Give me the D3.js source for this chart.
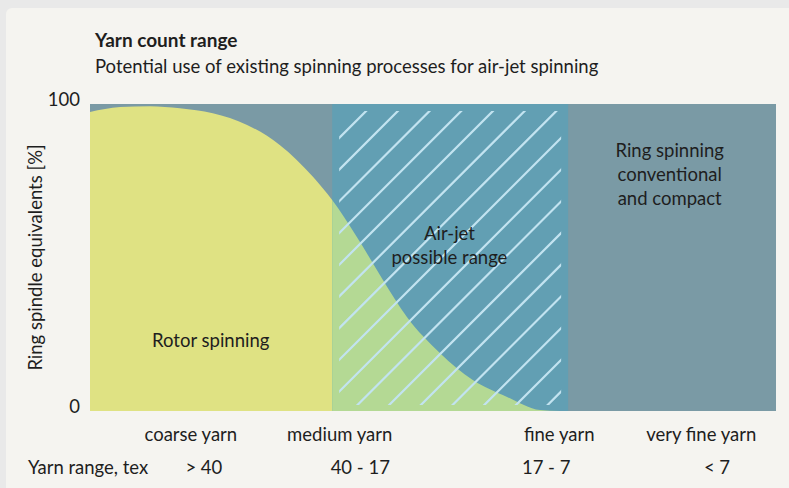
<!DOCTYPE html>
<html>
<head>
<meta charset="utf-8">
<script src="https://cdn.jsdelivr.net/npm/d3@7"></script>
<style>
  html, body { margin: 0; padding: 0; background: #e9e9e9; }
  svg { display: block; }
  text { font-family: Lato, "Noto Sans", sans-serif; fill: #1e1e1e; }
</style>
</head>
<body>
<svg id="chart" width="789" height="488"></svg>
<script>
// Yarn fineness position along the axis (0 = coarsest, 100 = finest)
const curvePos = [0, 4.4, 8.7, 13.1, 17.9, 22.9, 27.7, 32.5, 35.3, 38.9, 42.7, 46.2, 51.0, 55.8, 60.8, 65.6, 68.5];
// Share of ring spindle equivalents that rotor spinning can cover [%]
const rotorShare = [97.4, 99.0, 99.3, 98.6, 97.0, 93.2, 86.6, 76.3, 68.7, 56.7, 42.7, 30.6, 18.9, 10.1, 4.6, 0.3, 0];

// Air-jet possible range along the fineness axis
const airJetRange = [35.3, 69.7];

// Yarn classes and their tex ranges
const yarnClasses = ["coarse yarn", "medium yarn", "fine yarn", "very fine yarn"];
const classPos = [14.7, 36.4, 68.4, 89.1];
const texRanges = ["> 40", "40 - 17", "17 - 7", "< 7"];
const texPos = [16.6, 39.4, 66.5, 91.4];

const yTicks = [0, 100];

const svg = d3.select("#chart");

// card
svg.append("rect")
  .attr("x", 6).attr("y", 8).attr("width", 820).attr("height", 520)
  .attr("rx", 6).attr("fill", "#f5f4f0");

const plot = { left: 90, right: 776, top: 104, bottom: 411 };

const x = d3.scaleLinear().domain([0, 100]).range([plot.left, plot.right]);
const y = d3.scaleLinear().domain([0, 100]).range([plot.bottom, plot.top]);

const fs = 18.5;

// Titles
svg.append("text").attr("x", 95).attr("y", 47)
  .attr("font-size", 19).attr("font-weight", 700)
  .text("Yarn count range");
svg.append("text").attr("x", 95).attr("y", 73)
  .attr("font-size", fs)
  .text("Potential use of existing spinning processes for air-jet spinning");

const g = svg.append("g");

// Ring spinning background (whole count range)
g.append("rect")
  .attr("x", x(0)).attr("y", y(100))
  .attr("width", x(100) - x(0)).attr("height", y(0) - y(100))
  .attr("fill", "#7a9aa5");

// Air-jet range
g.append("rect")
  .attr("x", x(airJetRange[0])).attr("y", y(100))
  .attr("width", x(airJetRange[1]) - x(airJetRange[0])).attr("height", y(0) - y(100))
  .attr("fill", "#629fb3");

const defs = svg.append("defs");
defs.append("clipPath").attr("id", "clip-rotor").append("rect")
  .attr("x", x(0)).attr("y", y(100))
  .attr("width", x(airJetRange[0]) - x(0)).attr("height", y(0) - y(100));
defs.append("clipPath").attr("id", "clip-air").append("rect")
  .attr("x", x(airJetRange[0])).attr("y", y(100))
  .attr("width", x(airJetRange[1]) - x(airJetRange[0])).attr("height", y(0) - y(100));

const rotorData = curvePos.map((p, i) => ({ p, v: rotorShare[i] }));
const area = d3.area()
  .x(d => x(d.p))
  .y0(y(0))
  .y1(d => y(d.v))
  .curve(d3.curveMonotoneX);

g.append("path").datum(rotorData)
  .attr("d", area).attr("fill", "#dfe283")
  .attr("clip-path", "url(#clip-rotor)");
g.append("path").datum(rotorData)
  .attr("d", area).attr("fill", "#b4d994")
  .attr("clip-path", "url(#clip-air)");

// Hatching across the air-jet range
const inset = 7;
const hx0 = x(airJetRange[0]) + inset, hx1 = x(airJetRange[1]) - inset;
const hy0 = y(100) + inset, hy1 = y(0) - 6;
defs.append("clipPath").attr("id", "clip-hatch").append("rect")
  .attr("x", hx0).attr("y", hy0).attr("width", hx1 - hx0).attr("height", hy1 - hy0);
const step = 31.7;
const offsets = d3.range(hx0 + hy0 + 27, hx1 + hy1 + 1, step);
g.append("g").attr("clip-path", "url(#clip-hatch)")
  .selectAll("line").data(offsets).join("line")
  .attr("x1", c => c - hy1 - 40).attr("y1", hy1 + 40)
  .attr("x2", c => c - hy0 + 40).attr("y2", hy0 - 40)
  .attr("stroke", "#c2e3f0").attr("stroke-width", 2.2).attr("stroke-linecap", "round");

// Region labels
svg.append("text").attr("x", x(17.6)).attr("y", 347)
  .attr("text-anchor", "middle").attr("font-size", fs).text("Rotor spinning");
const air = svg.append("text").attr("text-anchor", "middle").attr("font-size", fs);
air.append("tspan").attr("x", x(52.4)).attr("y", 240).text("Air-jet");
air.append("tspan").attr("x", x(52.4)).attr("y", 264).text("possible range");
const ring = svg.append("text").attr("text-anchor", "middle").attr("font-size", fs);
["Ring spinning", "conventional", "and compact"].forEach((t, i) =>
  ring.append("tspan").attr("x", x(84.5)).attr("y", 157 + i * 24).text(t));

// Y axis labels
svg.append("g").selectAll("text").data(yTicks).join("text")
  .attr("x", 80).attr("y", d => y(d) + 1.5)
  .attr("text-anchor", "end").attr("font-size", fs)
  .text(d => d);
svg.append("text")
  .attr("transform", `translate(42,${(plot.top + plot.bottom) / 2}) rotate(-90)`)
  .attr("text-anchor", "middle").attr("font-size", fs)
  .text("Ring spindle equivalents [%]");

// Yarn classes and tex ranges
svg.append("g").selectAll("text").data(yarnClasses).join("text")
  .attr("x", (d, i) => x(classPos[i])).attr("y", 441)
  .attr("text-anchor", "middle").attr("font-size", fs)
  .text(d => d);
svg.append("text").attr("x", 28).attr("y", 474).attr("font-size", fs)
  .text("Yarn range, tex");
svg.append("g").selectAll("text").data(texRanges).join("text")
  .attr("x", (d, i) => x(texPos[i])).attr("y", 474)
  .attr("text-anchor", "middle").attr("font-size", fs)
  .text(d => d);
</script>
</body>
</html>
